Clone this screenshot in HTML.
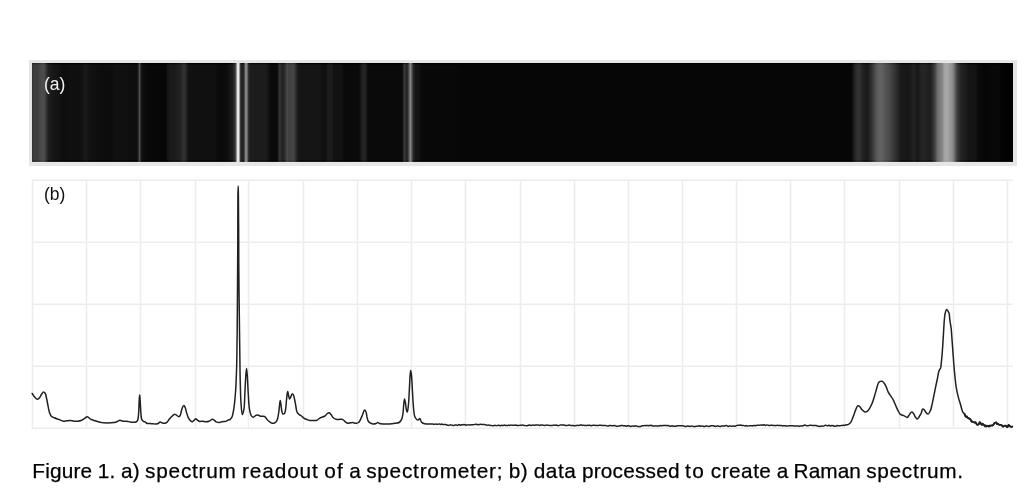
<!DOCTYPE html>
<html><head><meta charset="utf-8"><style>
html,body{margin:0;padding:0;background:#fff;width:1036px;height:500px;overflow:hidden;position:relative}
svg{position:absolute;left:0;top:0}
.lab{position:absolute;font-family:"Liberation Sans",sans-serif;font-size:17.5px;line-height:1;white-space:nowrap;will-change:transform}
.cap{position:absolute;left:0;top:0;font-family:"Liberation Sans",sans-serif;font-size:20.8px;line-height:1;white-space:nowrap;color:#000;will-change:transform;-webkit-text-stroke:0.25px #000}
.cap span{position:absolute;top:461px}
</style></head><body>
<svg width="1036" height="500" viewBox="0 0 1036 500">
<defs><linearGradient id="band" x1="32" y1="0" x2="1013" y2="0" gradientUnits="userSpaceOnUse">
<stop offset="0.00%" stop-color="#333333"/>
<stop offset="0.15%" stop-color="#3d3d3d"/>
<stop offset="0.51%" stop-color="#3f3f3f"/>
<stop offset="0.71%" stop-color="#444444"/>
<stop offset="0.92%" stop-color="#4a4a4a"/>
<stop offset="1.12%" stop-color="#4d4d4d"/>
<stop offset="1.27%" stop-color="#4a4a4a"/>
<stop offset="1.43%" stop-color="#383838"/>
<stop offset="1.63%" stop-color="#222222"/>
<stop offset="1.83%" stop-color="#1c1c1c"/>
<stop offset="2.14%" stop-color="#171717"/>
<stop offset="2.45%" stop-color="#151515"/>
<stop offset="2.85%" stop-color="#121212"/>
<stop offset="3.16%" stop-color="#0e0e0e"/>
<stop offset="3.47%" stop-color="#0e0e0e"/>
<stop offset="3.87%" stop-color="#101010"/>
<stop offset="4.38%" stop-color="#0f0f0f"/>
<stop offset="4.89%" stop-color="#101010"/>
<stop offset="5.20%" stop-color="#141414"/>
<stop offset="5.50%" stop-color="#1a1a1a"/>
<stop offset="5.71%" stop-color="#141414"/>
<stop offset="6.12%" stop-color="#101010"/>
<stop offset="6.42%" stop-color="#0f0f0f"/>
<stop offset="6.93%" stop-color="#0c0c0c"/>
<stop offset="7.95%" stop-color="#0c0c0c"/>
<stop offset="8.46%" stop-color="#101010"/>
<stop offset="9.48%" stop-color="#101010"/>
<stop offset="9.99%" stop-color="#0e0e0e"/>
<stop offset="10.60%" stop-color="#0e0e0e"/>
<stop offset="10.65%" stop-color="#0e0e0e"/>
<stop offset="10.81%" stop-color="#1c1c1c"/>
<stop offset="10.97%" stop-color="#555555"/>
<stop offset="11.11%" stop-color="#1c1c1c"/>
<stop offset="11.26%" stop-color="#101010"/>
<stop offset="11.52%" stop-color="#0b0b0b"/>
<stop offset="12.03%" stop-color="#070707"/>
<stop offset="13.66%" stop-color="#070707"/>
<stop offset="13.76%" stop-color="#121212"/>
<stop offset="14.07%" stop-color="#1a1a1a"/>
<stop offset="14.58%" stop-color="#1c1c1c"/>
<stop offset="15.09%" stop-color="#222222"/>
<stop offset="15.29%" stop-color="#2a2a2a"/>
<stop offset="15.49%" stop-color="#333333"/>
<stop offset="15.70%" stop-color="#282828"/>
<stop offset="15.90%" stop-color="#141414"/>
<stop offset="16.11%" stop-color="#101010"/>
<stop offset="18.65%" stop-color="#101010"/>
<stop offset="18.96%" stop-color="#0b0b0b"/>
<stop offset="19.67%" stop-color="#0b0b0b"/>
<stop offset="19.98%" stop-color="#101010"/>
<stop offset="20.29%" stop-color="#181818"/>
<stop offset="20.49%" stop-color="#1e1e1e"/>
<stop offset="20.64%" stop-color="#303030"/>
<stop offset="20.74%" stop-color="#484848"/>
<stop offset="20.83%" stop-color="#808080"/>
<stop offset="20.90%" stop-color="#c8c8c8"/>
<stop offset="20.96%" stop-color="#e8e8e8"/>
<stop offset="21.06%" stop-color="#eaeaea"/>
<stop offset="21.12%" stop-color="#c0c0c0"/>
<stop offset="21.19%" stop-color="#707070"/>
<stop offset="21.26%" stop-color="#383838"/>
<stop offset="21.36%" stop-color="#242424"/>
<stop offset="21.56%" stop-color="#262626"/>
<stop offset="21.67%" stop-color="#505050"/>
<stop offset="21.76%" stop-color="#808080"/>
<stop offset="21.85%" stop-color="#8a8a8a"/>
<stop offset="21.94%" stop-color="#707070"/>
<stop offset="22.05%" stop-color="#343434"/>
<stop offset="22.22%" stop-color="#1e1e1e"/>
<stop offset="22.73%" stop-color="#1c1c1c"/>
<stop offset="23.85%" stop-color="#1c1c1c"/>
<stop offset="24.06%" stop-color="#141414"/>
<stop offset="24.26%" stop-color="#0c0c0c"/>
<stop offset="24.41%" stop-color="#0a0a0a"/>
<stop offset="24.97%" stop-color="#0a0a0a"/>
<stop offset="25.11%" stop-color="#1c1c1c"/>
<stop offset="25.25%" stop-color="#383838"/>
<stop offset="25.38%" stop-color="#2a2a2a"/>
<stop offset="25.59%" stop-color="#202020"/>
<stop offset="25.79%" stop-color="#303030"/>
<stop offset="26.02%" stop-color="#4a4a4a"/>
<stop offset="26.20%" stop-color="#404040"/>
<stop offset="26.40%" stop-color="#444444"/>
<stop offset="26.71%" stop-color="#444444"/>
<stop offset="26.91%" stop-color="#2c2c2c"/>
<stop offset="27.12%" stop-color="#1a1a1a"/>
<stop offset="27.32%" stop-color="#151515"/>
<stop offset="29.36%" stop-color="#151515"/>
<stop offset="29.56%" stop-color="#111111"/>
<stop offset="29.97%" stop-color="#111111"/>
<stop offset="30.12%" stop-color="#1c1c1c"/>
<stop offset="30.58%" stop-color="#1c1c1c"/>
<stop offset="30.73%" stop-color="#121212"/>
<stop offset="31.60%" stop-color="#121212"/>
<stop offset="31.75%" stop-color="#0a0a0a"/>
<stop offset="33.33%" stop-color="#0a0a0a"/>
<stop offset="33.54%" stop-color="#1a1a1a"/>
<stop offset="33.74%" stop-color="#222222"/>
<stop offset="33.94%" stop-color="#262626"/>
<stop offset="34.10%" stop-color="#181818"/>
<stop offset="34.25%" stop-color="#0a0a0a"/>
<stop offset="37.67%" stop-color="#0a0a0a"/>
<stop offset="37.80%" stop-color="#161616"/>
<stop offset="37.96%" stop-color="#3c3c3c"/>
<stop offset="38.12%" stop-color="#2a2a2a"/>
<stop offset="38.26%" stop-color="#262626"/>
<stop offset="38.41%" stop-color="#505050"/>
<stop offset="38.57%" stop-color="#888888"/>
<stop offset="38.72%" stop-color="#555555"/>
<stop offset="38.87%" stop-color="#282828"/>
<stop offset="39.04%" stop-color="#161616"/>
<stop offset="39.35%" stop-color="#121212"/>
<stop offset="39.55%" stop-color="#101010"/>
<stop offset="39.70%" stop-color="#080808"/>
<stop offset="43.12%" stop-color="#080808"/>
<stop offset="43.63%" stop-color="#060606"/>
<stop offset="83.38%" stop-color="#060606"/>
<stop offset="83.54%" stop-color="#080808"/>
<stop offset="83.64%" stop-color="#101010"/>
<stop offset="83.74%" stop-color="#1a1a1a"/>
<stop offset="83.89%" stop-color="#262626"/>
<stop offset="84.10%" stop-color="#2e2e2e"/>
<stop offset="84.25%" stop-color="#333333"/>
<stop offset="84.40%" stop-color="#2e2e2e"/>
<stop offset="84.51%" stop-color="#2a2a2a"/>
<stop offset="84.66%" stop-color="#222222"/>
<stop offset="84.91%" stop-color="#1e1e1e"/>
<stop offset="85.12%" stop-color="#1a1a1a"/>
<stop offset="85.32%" stop-color="#222222"/>
<stop offset="85.47%" stop-color="#2a2a2a"/>
<stop offset="85.63%" stop-color="#333333"/>
<stop offset="85.83%" stop-color="#444444"/>
<stop offset="85.98%" stop-color="#505050"/>
<stop offset="86.14%" stop-color="#585858"/>
<stop offset="86.34%" stop-color="#606060"/>
<stop offset="86.65%" stop-color="#606060"/>
<stop offset="86.80%" stop-color="#5c5c5c"/>
<stop offset="86.95%" stop-color="#555555"/>
<stop offset="87.16%" stop-color="#505050"/>
<stop offset="87.36%" stop-color="#4a4a4a"/>
<stop offset="87.56%" stop-color="#444444"/>
<stop offset="87.77%" stop-color="#3a3a3a"/>
<stop offset="87.97%" stop-color="#333333"/>
<stop offset="88.18%" stop-color="#2a2a2a"/>
<stop offset="88.38%" stop-color="#222222"/>
<stop offset="88.58%" stop-color="#1a1a1a"/>
<stop offset="88.79%" stop-color="#181818"/>
<stop offset="89.40%" stop-color="#181818"/>
<stop offset="89.60%" stop-color="#1c1c1c"/>
<stop offset="89.91%" stop-color="#222222"/>
<stop offset="90.06%" stop-color="#1e1e1e"/>
<stop offset="90.21%" stop-color="#151515"/>
<stop offset="90.42%" stop-color="#1c1c1c"/>
<stop offset="90.62%" stop-color="#242424"/>
<stop offset="90.83%" stop-color="#262626"/>
<stop offset="91.03%" stop-color="#242424"/>
<stop offset="91.18%" stop-color="#222222"/>
<stop offset="91.44%" stop-color="#1e1e1e"/>
<stop offset="91.64%" stop-color="#222222"/>
<stop offset="91.85%" stop-color="#333333"/>
<stop offset="92.05%" stop-color="#444444"/>
<stop offset="92.25%" stop-color="#666666"/>
<stop offset="92.46%" stop-color="#777777"/>
<stop offset="92.66%" stop-color="#808080"/>
<stop offset="92.81%" stop-color="#888888"/>
<stop offset="92.97%" stop-color="#a0a0a0"/>
<stop offset="93.12%" stop-color="#a6a6a6"/>
<stop offset="93.37%" stop-color="#a5a5a5"/>
<stop offset="93.53%" stop-color="#9a9a9a"/>
<stop offset="93.68%" stop-color="#989898"/>
<stop offset="93.83%" stop-color="#8a8a8a"/>
<stop offset="93.99%" stop-color="#777777"/>
<stop offset="94.14%" stop-color="#585858"/>
<stop offset="94.29%" stop-color="#444444"/>
<stop offset="94.44%" stop-color="#333333"/>
<stop offset="94.60%" stop-color="#2a2a2a"/>
<stop offset="94.80%" stop-color="#222222"/>
<stop offset="95.21%" stop-color="#1c1c1c"/>
<stop offset="95.41%" stop-color="#161616"/>
<stop offset="96.23%" stop-color="#121212"/>
<stop offset="96.43%" stop-color="#0a0a0a"/>
<stop offset="96.84%" stop-color="#080808"/>
<stop offset="97.25%" stop-color="#050505"/>
<stop offset="98.06%" stop-color="#080808"/>
<stop offset="98.57%" stop-color="#090909"/>
<stop offset="98.78%" stop-color="#040404"/>
<stop offset="100.00%" stop-color="#010101"/>
</linearGradient>
<linearGradient id="bandE" x1="32" y1="0" x2="1013" y2="0" gradientUnits="userSpaceOnUse">
<stop offset="0.00%" stop-color="#212121"/>
<stop offset="0.15%" stop-color="#2b2b2b"/>
<stop offset="0.51%" stop-color="#2d2d2d"/>
<stop offset="0.71%" stop-color="#333333"/>
<stop offset="0.92%" stop-color="#3b3b3b"/>
<stop offset="1.12%" stop-color="#3f3f3f"/>
<stop offset="1.27%" stop-color="#3b3b3b"/>
<stop offset="1.43%" stop-color="#262626"/>
<stop offset="1.63%" stop-color="#101010"/>
<stop offset="1.83%" stop-color="#0a0a0a"/>
<stop offset="2.14%" stop-color="#050505"/>
<stop offset="2.45%" stop-color="#030303"/>
<stop offset="2.85%" stop-color="#000000"/>
<stop offset="3.16%" stop-color="#000000"/>
<stop offset="3.47%" stop-color="#000000"/>
<stop offset="3.87%" stop-color="#000000"/>
<stop offset="4.38%" stop-color="#000000"/>
<stop offset="4.89%" stop-color="#000000"/>
<stop offset="5.20%" stop-color="#020202"/>
<stop offset="5.50%" stop-color="#080808"/>
<stop offset="5.71%" stop-color="#020202"/>
<stop offset="6.12%" stop-color="#000000"/>
<stop offset="6.42%" stop-color="#000000"/>
<stop offset="6.93%" stop-color="#000000"/>
<stop offset="7.95%" stop-color="#000000"/>
<stop offset="8.46%" stop-color="#000000"/>
<stop offset="9.48%" stop-color="#000000"/>
<stop offset="9.99%" stop-color="#000000"/>
<stop offset="10.60%" stop-color="#000000"/>
<stop offset="10.65%" stop-color="#000000"/>
<stop offset="10.81%" stop-color="#0a0a0a"/>
<stop offset="10.97%" stop-color="#494949"/>
<stop offset="11.11%" stop-color="#0a0a0a"/>
<stop offset="11.26%" stop-color="#000000"/>
<stop offset="11.52%" stop-color="#000000"/>
<stop offset="12.03%" stop-color="#000000"/>
<stop offset="13.66%" stop-color="#000000"/>
<stop offset="13.76%" stop-color="#000000"/>
<stop offset="14.07%" stop-color="#080808"/>
<stop offset="14.58%" stop-color="#0a0a0a"/>
<stop offset="15.09%" stop-color="#101010"/>
<stop offset="15.29%" stop-color="#181818"/>
<stop offset="15.49%" stop-color="#212121"/>
<stop offset="15.70%" stop-color="#161616"/>
<stop offset="15.90%" stop-color="#020202"/>
<stop offset="16.11%" stop-color="#000000"/>
<stop offset="18.65%" stop-color="#000000"/>
<stop offset="18.96%" stop-color="#000000"/>
<stop offset="19.67%" stop-color="#000000"/>
<stop offset="19.98%" stop-color="#000000"/>
<stop offset="20.29%" stop-color="#060606"/>
<stop offset="20.49%" stop-color="#0c0c0c"/>
<stop offset="20.64%" stop-color="#1e1e1e"/>
<stop offset="20.74%" stop-color="#383838"/>
<stop offset="20.83%" stop-color="#808080"/>
<stop offset="20.90%" stop-color="#c8c8c8"/>
<stop offset="20.96%" stop-color="#e8e8e8"/>
<stop offset="21.06%" stop-color="#eaeaea"/>
<stop offset="21.12%" stop-color="#c0c0c0"/>
<stop offset="21.19%" stop-color="#6c6c6c"/>
<stop offset="21.26%" stop-color="#262626"/>
<stop offset="21.36%" stop-color="#121212"/>
<stop offset="21.56%" stop-color="#141414"/>
<stop offset="21.67%" stop-color="#424242"/>
<stop offset="21.76%" stop-color="#808080"/>
<stop offset="21.85%" stop-color="#8a8a8a"/>
<stop offset="21.94%" stop-color="#6c6c6c"/>
<stop offset="22.05%" stop-color="#222222"/>
<stop offset="22.22%" stop-color="#0c0c0c"/>
<stop offset="22.73%" stop-color="#0a0a0a"/>
<stop offset="23.85%" stop-color="#0a0a0a"/>
<stop offset="24.06%" stop-color="#020202"/>
<stop offset="24.26%" stop-color="#000000"/>
<stop offset="24.41%" stop-color="#000000"/>
<stop offset="24.97%" stop-color="#000000"/>
<stop offset="25.11%" stop-color="#0a0a0a"/>
<stop offset="25.25%" stop-color="#262626"/>
<stop offset="25.38%" stop-color="#181818"/>
<stop offset="25.59%" stop-color="#0e0e0e"/>
<stop offset="25.79%" stop-color="#1e1e1e"/>
<stop offset="26.02%" stop-color="#3b3b3b"/>
<stop offset="26.20%" stop-color="#2e2e2e"/>
<stop offset="26.40%" stop-color="#333333"/>
<stop offset="26.71%" stop-color="#333333"/>
<stop offset="26.91%" stop-color="#1a1a1a"/>
<stop offset="27.12%" stop-color="#080808"/>
<stop offset="27.32%" stop-color="#030303"/>
<stop offset="29.36%" stop-color="#030303"/>
<stop offset="29.56%" stop-color="#000000"/>
<stop offset="29.97%" stop-color="#000000"/>
<stop offset="30.12%" stop-color="#0a0a0a"/>
<stop offset="30.58%" stop-color="#0a0a0a"/>
<stop offset="30.73%" stop-color="#000000"/>
<stop offset="31.60%" stop-color="#000000"/>
<stop offset="31.75%" stop-color="#000000"/>
<stop offset="33.33%" stop-color="#000000"/>
<stop offset="33.54%" stop-color="#080808"/>
<stop offset="33.74%" stop-color="#101010"/>
<stop offset="33.94%" stop-color="#141414"/>
<stop offset="34.10%" stop-color="#060606"/>
<stop offset="34.25%" stop-color="#000000"/>
<stop offset="37.67%" stop-color="#000000"/>
<stop offset="37.80%" stop-color="#040404"/>
<stop offset="37.96%" stop-color="#2a2a2a"/>
<stop offset="38.12%" stop-color="#181818"/>
<stop offset="38.26%" stop-color="#141414"/>
<stop offset="38.41%" stop-color="#424242"/>
<stop offset="38.57%" stop-color="#888888"/>
<stop offset="38.72%" stop-color="#494949"/>
<stop offset="38.87%" stop-color="#161616"/>
<stop offset="39.04%" stop-color="#040404"/>
<stop offset="39.35%" stop-color="#000000"/>
<stop offset="39.55%" stop-color="#000000"/>
<stop offset="39.70%" stop-color="#000000"/>
<stop offset="43.12%" stop-color="#000000"/>
<stop offset="43.63%" stop-color="#000000"/>
<stop offset="83.38%" stop-color="#000000"/>
<stop offset="83.54%" stop-color="#000000"/>
<stop offset="83.64%" stop-color="#000000"/>
<stop offset="83.74%" stop-color="#080808"/>
<stop offset="83.89%" stop-color="#141414"/>
<stop offset="84.10%" stop-color="#1c1c1c"/>
<stop offset="84.25%" stop-color="#212121"/>
<stop offset="84.40%" stop-color="#1c1c1c"/>
<stop offset="84.51%" stop-color="#181818"/>
<stop offset="84.66%" stop-color="#101010"/>
<stop offset="84.91%" stop-color="#0c0c0c"/>
<stop offset="85.12%" stop-color="#080808"/>
<stop offset="85.32%" stop-color="#101010"/>
<stop offset="85.47%" stop-color="#181818"/>
<stop offset="85.63%" stop-color="#212121"/>
<stop offset="85.83%" stop-color="#333333"/>
<stop offset="85.98%" stop-color="#424242"/>
<stop offset="86.14%" stop-color="#4d4d4d"/>
<stop offset="86.34%" stop-color="#575757"/>
<stop offset="86.65%" stop-color="#575757"/>
<stop offset="86.80%" stop-color="#525252"/>
<stop offset="86.95%" stop-color="#494949"/>
<stop offset="87.16%" stop-color="#424242"/>
<stop offset="87.36%" stop-color="#3b3b3b"/>
<stop offset="87.56%" stop-color="#333333"/>
<stop offset="87.77%" stop-color="#282828"/>
<stop offset="87.97%" stop-color="#212121"/>
<stop offset="88.18%" stop-color="#181818"/>
<stop offset="88.38%" stop-color="#101010"/>
<stop offset="88.58%" stop-color="#080808"/>
<stop offset="88.79%" stop-color="#060606"/>
<stop offset="89.40%" stop-color="#060606"/>
<stop offset="89.60%" stop-color="#0a0a0a"/>
<stop offset="89.91%" stop-color="#101010"/>
<stop offset="90.06%" stop-color="#0c0c0c"/>
<stop offset="90.21%" stop-color="#030303"/>
<stop offset="90.42%" stop-color="#0a0a0a"/>
<stop offset="90.62%" stop-color="#121212"/>
<stop offset="90.83%" stop-color="#141414"/>
<stop offset="91.03%" stop-color="#121212"/>
<stop offset="91.18%" stop-color="#101010"/>
<stop offset="91.44%" stop-color="#0c0c0c"/>
<stop offset="91.64%" stop-color="#101010"/>
<stop offset="91.85%" stop-color="#212121"/>
<stop offset="92.05%" stop-color="#333333"/>
<stop offset="92.25%" stop-color="#5f5f5f"/>
<stop offset="92.46%" stop-color="#747474"/>
<stop offset="92.66%" stop-color="#808080"/>
<stop offset="92.81%" stop-color="#888888"/>
<stop offset="92.97%" stop-color="#a0a0a0"/>
<stop offset="93.12%" stop-color="#a6a6a6"/>
<stop offset="93.37%" stop-color="#a5a5a5"/>
<stop offset="93.53%" stop-color="#9a9a9a"/>
<stop offset="93.68%" stop-color="#989898"/>
<stop offset="93.83%" stop-color="#8a8a8a"/>
<stop offset="93.99%" stop-color="#747474"/>
<stop offset="94.14%" stop-color="#4d4d4d"/>
<stop offset="94.29%" stop-color="#333333"/>
<stop offset="94.44%" stop-color="#212121"/>
<stop offset="94.60%" stop-color="#181818"/>
<stop offset="94.80%" stop-color="#101010"/>
<stop offset="95.21%" stop-color="#0a0a0a"/>
<stop offset="95.41%" stop-color="#040404"/>
<stop offset="96.23%" stop-color="#000000"/>
<stop offset="96.43%" stop-color="#000000"/>
<stop offset="96.84%" stop-color="#000000"/>
<stop offset="97.25%" stop-color="#000000"/>
<stop offset="98.06%" stop-color="#000000"/>
<stop offset="98.57%" stop-color="#000000"/>
<stop offset="98.78%" stop-color="#000000"/>
<stop offset="100.00%" stop-color="#000000"/>
</linearGradient>
<linearGradient id="vshade" x1="0" y1="63" x2="0" y2="161.7" gradientUnits="userSpaceOnUse">
<stop offset="0" stop-color="#000" stop-opacity="0.6"/><stop offset="0.02" stop-color="#000" stop-opacity="0"/>
<stop offset="0.98" stop-color="#000" stop-opacity="0"/><stop offset="1" stop-color="#000" stop-opacity="0.6"/>
</linearGradient></defs>
<rect x="29" y="60" width="988" height="106" fill="#e6e6e6"/>
<rect x="32" y="63" width="981" height="98.7" fill="url(#band)"/>
<rect x="32" y="63" width="981" height="1.4" fill="url(#bandE)"/>
<rect x="32" y="160.4" width="981" height="1.3" fill="url(#bandE)"/>
<g>
<rect x="31" y="179" width="3" height="250" fill="#fafafa"/>
<rect x="85" y="179" width="3" height="250" fill="#fafafa"/>
<rect x="139" y="179" width="3" height="250" fill="#fafafa"/>
<rect x="194" y="179" width="3" height="250" fill="#fafafa"/>
<rect x="247" y="179" width="3" height="250" fill="#fafafa"/>
<rect x="302" y="179" width="3" height="250" fill="#fafafa"/>
<rect x="356" y="179" width="3" height="250" fill="#fafafa"/>
<rect x="410" y="179" width="3" height="250" fill="#fafafa"/>
<rect x="464" y="179" width="3" height="250" fill="#fafafa"/>
<rect x="519" y="179" width="3" height="250" fill="#fafafa"/>
<rect x="573" y="179" width="3" height="250" fill="#fafafa"/>
<rect x="627" y="179" width="3" height="250" fill="#fafafa"/>
<rect x="681" y="179" width="3" height="250" fill="#fafafa"/>
<rect x="735" y="179" width="3" height="250" fill="#fafafa"/>
<rect x="789" y="179" width="3" height="250" fill="#fafafa"/>
<rect x="843" y="179" width="3" height="250" fill="#fafafa"/>
<rect x="898" y="179" width="3" height="250" fill="#fafafa"/>
<rect x="952" y="179" width="3" height="250" fill="#fafafa"/>
<rect x="1006" y="179" width="3" height="250" fill="#fafafa"/>
<rect x="31" y="179" width="982" height="1" fill="#f6f6f6"/>
<rect x="31" y="241" width="982" height="1" fill="#f6f6f6"/>
<rect x="31" y="303" width="982" height="1" fill="#f6f6f6"/>
<rect x="31" y="365" width="982" height="1" fill="#f6f6f6"/>
<rect x="31" y="427" width="982" height="1" fill="#f6f6f6"/>
<rect x="32" y="180" width="1" height="249" fill="#ececec"/>
<rect x="86" y="180" width="1" height="249" fill="#ececec"/>
<rect x="140" y="180" width="1" height="249" fill="#ececec"/>
<rect x="195" y="180" width="1" height="249" fill="#ececec"/>
<rect x="248" y="180" width="1" height="249" fill="#ececec"/>
<rect x="303" y="180" width="1" height="249" fill="#ececec"/>
<rect x="357" y="180" width="1" height="249" fill="#ececec"/>
<rect x="411" y="180" width="1" height="249" fill="#ececec"/>
<rect x="465" y="180" width="1" height="249" fill="#ececec"/>
<rect x="520" y="180" width="1" height="249" fill="#ececec"/>
<rect x="574" y="180" width="1" height="249" fill="#ececec"/>
<rect x="628" y="180" width="1" height="249" fill="#ececec"/>
<rect x="682" y="180" width="1" height="249" fill="#ececec"/>
<rect x="736" y="180" width="1" height="249" fill="#ececec"/>
<rect x="790" y="180" width="1" height="249" fill="#ececec"/>
<rect x="844" y="180" width="1" height="249" fill="#ececec"/>
<rect x="899" y="180" width="1" height="249" fill="#ececec"/>
<rect x="953" y="180" width="1" height="249" fill="#ececec"/>
<rect x="1007" y="180" width="1" height="249" fill="#ececec"/>
<rect x="32" y="180" width="980.5" height="1" fill="#ececec"/>
<rect x="32" y="242" width="980.5" height="1" fill="#ececec"/>
<rect x="32" y="304" width="980.5" height="1" fill="#ececec"/>
<rect x="32" y="366" width="980.5" height="1" fill="#ececec"/>
<rect x="32" y="428" width="980.5" height="1" fill="#ececec"/>
</g>
<g fill="none" stroke="#202020" stroke-linejoin="round" stroke-linecap="round">
<path d="M32.2 393.5C32.2 393.5 33.3 395.3 34.0 396.2C34.9 397.2 36.2 399.1 37.2 399.2C38.0 399.3 38.7 398.6 39.4 398.0C40.3 397.1 40.9 395.1 41.7 394.0C42.3 393.2 42.9 392.0 43.5 392.0C44.1 392.0 44.8 392.7 45.3 393.5C46.0 394.6 46.2 396.7 46.6 398.5C47.1 400.7 47.5 403.4 48.0 405.7C48.4 407.9 48.7 410.2 49.3 412.0C49.8 413.5 50.2 415.0 51.1 416.0C51.9 416.9 53.1 417.3 54.3 417.8C55.6 418.4 57.3 418.8 58.8 419.4C60.3 420.0 61.9 421.0 63.3 421.2C64.5 421.4 65.7 420.9 66.9 420.8C68.1 420.7 69.3 420.4 70.5 420.5C71.7 420.6 72.9 421.1 74.1 421.2C75.3 421.3 76.5 421.3 77.7 421.2C79.0 421.1 80.4 420.8 81.6 420.3C82.7 419.8 83.7 418.9 84.7 418.3C85.6 417.7 86.5 416.6 87.4 416.7C88.4 416.8 89.4 418.5 90.6 419.2C91.9 419.9 93.5 420.3 95.1 420.8C97.0 421.4 99.4 422.2 101.4 422.6C103.3 422.9 104.9 423.0 106.8 423.0C109.0 423.0 112.0 423.0 114.0 422.6C115.4 422.3 116.6 421.8 117.6 421.4C118.4 421.1 119.0 420.4 119.8 420.3C120.8 420.2 121.8 421.0 123.0 421.2C124.5 421.4 126.9 421.2 128.2 421.4C129.0 421.5 129.2 421.9 130.0 422.0C131.4 422.2 134.7 422.4 135.9 422.0C136.5 421.8 136.9 421.5 137.2 421.0C137.7 420.4 137.9 419.5 138.1 418.3C138.5 416.3 138.6 413.1 138.8 410.2C139.0 406.7 139.1 401.3 139.3 398.5C139.4 397.0 139.6 394.9 139.7 394.9C139.9 394.9 140.0 398.8 140.2 401.2C140.4 404.3 140.5 408.8 140.8 412.0C141.0 414.6 141.0 417.6 141.7 419.2C142.1 420.2 142.8 420.9 143.5 421.4C144.1 421.8 144.7 421.7 145.3 422.0C145.9 422.4 146.4 423.2 147.1 423.5C147.9 423.8 148.9 423.5 149.8 423.5C150.8 423.5 151.8 423.7 153.0 423.8C154.4 423.9 156.2 424.2 157.5 423.8C158.6 423.5 159.3 422.2 160.2 422.1C161.0 422.0 161.6 422.8 162.4 423.0C163.1 423.2 164.0 423.3 164.7 423.2C165.5 423.1 166.2 422.8 166.9 422.3C167.9 421.6 168.7 419.8 169.6 418.7C170.5 417.7 171.4 416.8 172.3 416.0C173.1 415.3 173.9 414.3 174.6 414.2C175.0 414.1 175.3 414.4 175.8 414.7C176.6 415.1 178.1 416.8 178.9 416.7C179.5 416.6 179.9 415.9 180.3 415.1C181.1 413.7 181.3 410.1 182.1 408.4C182.6 407.2 183.3 405.5 183.9 405.5C184.4 405.5 184.8 406.6 185.2 407.5C185.8 408.8 186.1 411.2 186.6 412.9C187.1 414.6 187.7 416.4 188.4 417.8C189.0 419.0 189.8 420.1 190.6 420.8C191.2 421.3 191.8 421.8 192.4 421.7C193.0 421.6 193.6 420.6 194.2 420.1C194.7 419.6 195.3 418.7 195.8 418.7C196.3 418.7 196.8 419.7 197.4 420.1C198.1 420.6 198.8 421.2 199.6 421.4C200.5 421.6 201.7 421.1 202.8 421.2C203.8 421.3 204.9 421.7 205.9 421.7C207.0 421.7 208.0 421.6 209.1 421.2C210.3 420.8 211.5 419.1 212.7 419.2C213.9 419.3 215.1 421.3 216.3 421.9C217.2 422.3 218.1 422.6 219.0 422.6C220.0 422.6 220.9 421.9 222.0 421.7C223.2 421.5 224.6 421.7 225.7 421.4C226.6 421.1 227.2 420.5 228.0 420.1C228.7 419.8 229.6 419.8 230.2 419.3C230.9 418.8 231.4 418.2 231.9 417.2C232.8 415.3 233.3 411.6 233.9 408.1C234.6 403.6 235.1 397.7 235.5 392.5C235.9 387.3 236.1 382.3 236.3 377.0C236.5 371.5 236.7 366.5 236.8 360.0C237.0 351.4 237.1 340.7 237.2 330.0C237.3 317.6 237.4 304.1 237.5 290.0C237.6 274.3 237.7 256.1 237.8 240.0C237.8 224.9 237.8 205.5 237.9 196.0C238.0 191.5 238.1 186.0 238.2 186.0C238.3 186.0 238.4 191.5 238.4 196.0C238.6 205.5 238.6 224.9 238.7 240.0C238.7 256.1 238.8 274.3 239.0 290.0C239.1 304.1 239.3 317.6 239.5 330.0C239.6 340.7 239.8 351.1 239.9 360.0C240.0 367.2 240.0 372.7 240.2 379.5C240.4 386.9 240.5 396.4 241.0 402.9C241.3 407.5 241.7 414.5 242.3 414.6C242.7 414.6 243.5 411.7 243.9 409.4C244.6 405.4 244.6 398.1 244.9 392.5C245.2 386.9 245.5 380.0 245.8 375.6C246.0 372.7 246.3 368.5 246.5 368.5C246.7 368.5 247.0 371.8 247.2 374.3C247.6 378.7 247.8 386.5 248.2 392.5C248.6 398.2 248.7 405.1 249.5 409.4C250.0 412.1 250.5 414.6 251.4 415.9C252.0 416.7 252.7 417.2 253.4 417.2C254.2 417.2 255.1 415.6 256.0 415.3C256.8 415.0 257.7 415.0 258.5 415.2C259.2 415.4 259.7 416.0 260.5 416.2C261.6 416.5 263.5 416.1 264.5 416.5C265.2 416.8 265.5 417.4 266.0 418.0C266.6 418.7 267.2 419.7 268.0 420.5C269.0 421.4 270.4 422.6 271.5 423.0C272.4 423.3 273.2 423.4 274.0 423.2C274.7 423.0 275.4 422.6 276.0 422.0C276.7 421.3 277.1 420.2 277.5 419.0C278.1 417.2 278.4 414.5 278.8 412.0C279.2 409.2 279.5 405.1 279.8 403.0C280.0 401.9 280.1 400.5 280.3 400.5C280.5 400.5 280.8 403.4 281.0 405.0C281.3 406.9 281.4 409.4 281.8 411.0C282.1 412.2 282.4 413.7 283.0 414.0C283.4 414.2 284.1 413.9 284.5 413.5C285.1 412.9 285.2 411.5 285.5 410.0C286.0 407.5 286.2 403.0 286.5 400.0C286.8 397.5 287.0 394.5 287.3 393.0C287.5 392.3 287.6 391.5 287.8 391.5C288.0 391.5 288.2 393.8 288.5 395.0C288.8 396.3 289.1 398.9 289.5 399.0C289.8 399.0 290.1 398.1 290.5 397.5C291.0 396.6 291.6 394.2 292.2 394.0C292.5 393.9 292.9 394.1 293.2 394.5C293.8 395.2 294.1 397.3 294.5 399.0C295.0 401.1 295.4 403.8 295.8 406.0C296.2 408.1 296.3 410.5 297.0 412.0C297.5 413.1 298.2 413.8 299.0 414.5C299.7 415.1 300.7 415.4 301.5 416.0C302.2 416.5 302.8 417.3 303.5 417.8C304.3 418.3 305.3 418.9 306.0 419.2C306.4 419.4 306.6 419.4 307.0 419.5C307.7 419.7 308.9 420.3 310.0 420.5C311.2 420.7 312.8 420.6 314.0 420.5C315.1 420.4 316.0 420.6 317.0 420.2C318.1 419.8 319.0 418.5 320.0 418.0C320.8 417.5 321.7 417.3 322.5 417.0C323.3 416.7 324.2 416.5 325.0 416.0C325.9 415.4 326.7 413.8 327.5 413.3C328.1 412.9 328.7 412.7 329.2 412.8C329.8 413.0 330.4 413.8 331.0 414.5C331.7 415.3 332.2 416.7 333.0 417.5C333.8 418.3 335.0 418.9 336.0 419.2C336.8 419.5 337.6 419.5 338.5 419.5C339.5 419.5 340.6 419.1 341.5 419.2C342.2 419.3 342.9 419.6 343.5 420.0C344.2 420.5 344.7 421.4 345.5 422.0C346.2 422.5 347.1 423.2 348.0 423.3C348.8 423.4 349.7 422.9 350.5 422.8C351.3 422.7 352.4 422.4 353.0 422.5C353.4 422.6 353.6 422.9 354.0 423.0C354.6 423.2 355.7 423.4 356.5 423.3C357.2 423.2 357.9 422.9 358.5 422.5C359.1 422.0 359.5 421.3 360.0 420.5C360.7 419.3 361.4 417.5 362.0 416.0C362.6 414.6 363.0 413.1 363.5 412.0C363.8 411.2 364.1 410.0 364.5 410.0C364.9 410.0 365.6 411.1 366.0 412.0C366.6 413.2 366.6 415.4 367.0 417.0C367.4 418.4 367.5 419.9 368.2 421.0C368.8 421.9 369.6 422.7 370.5 423.2C371.4 423.7 372.5 424.0 373.5 424.0C374.4 424.0 375.3 423.8 376.0 423.5C376.7 423.3 377.2 422.5 377.8 422.5C378.4 422.5 378.8 423.3 379.5 423.5C380.4 423.8 381.8 423.9 383.0 424.0C384.3 424.1 385.6 424.0 387.0 424.0C388.6 424.0 390.4 423.9 392.0 423.8C393.4 423.7 394.8 423.4 396.0 423.2C397.1 423.0 398.2 423.0 399.0 422.5C399.8 422.1 400.4 421.4 401.0 420.5C401.8 419.2 402.3 417.4 402.7 415.3C403.3 412.4 403.4 407.8 403.7 404.8C404.0 402.5 404.2 398.9 404.5 398.9C404.8 398.9 405.2 401.7 405.5 403.4C405.9 405.5 406.0 408.9 406.5 410.4C406.7 411.2 407.1 412.1 407.3 412.1C407.7 412.0 408.0 408.6 408.3 406.2C408.8 402.3 409.0 395.9 409.3 390.8C409.6 385.7 409.8 379.1 410.1 375.4C410.3 373.3 410.5 370.5 410.7 370.5C410.9 370.5 411.3 373.3 411.5 375.4C411.9 379.3 412.2 386.7 412.5 392.2C412.8 397.4 413.1 403.2 413.5 407.6C413.8 410.8 413.9 413.9 414.6 416.0C415.1 417.5 416.0 418.9 416.7 419.5C417.2 419.9 417.6 420.1 418.1 420.0C418.7 419.9 419.3 418.4 419.8 418.5C420.5 418.6 420.7 421.4 421.6 422.3C422.3 423.1 423.3 423.4 424.4 423.7C425.9 424.1 428.7 424.1 430.0 424.1C430.7 424.1 431.0 424.1 431.5 424.1C431.9 424.0 432.4 423.9 432.8 423.9C433.2 424.0 433.7 424.4 434.1 424.4C434.5 424.4 435.0 423.9 435.4 423.9C435.8 423.9 436.3 424.3 436.7 424.3C437.1 424.3 437.6 424.2 438.0 424.2C438.4 424.1 438.9 423.9 439.3 423.9C439.7 424.0 440.2 424.3 440.6 424.4C441.0 424.4 441.5 424.1 441.9 424.1C442.3 424.2 442.8 424.6 443.2 424.6C443.6 424.7 444.1 424.5 444.5 424.5C444.9 424.5 445.4 424.5 445.8 424.6C446.2 424.7 446.7 424.9 447.1 425.0C447.5 425.2 448.0 425.5 448.4 425.5C448.8 425.4 449.3 424.9 449.7 424.9C450.1 424.8 450.6 424.8 451.0 424.9C451.4 424.9 451.9 425.1 452.3 425.2C452.7 425.3 453.2 425.4 453.6 425.4C454.0 425.4 454.5 425.1 454.9 425.1C455.3 425.0 455.8 424.9 456.2 424.9C456.6 425.0 457.1 425.4 457.5 425.4C457.9 425.3 458.4 424.6 458.8 424.6C459.2 424.6 459.7 425.2 460.1 425.3C460.5 425.3 461.0 424.9 461.4 424.8C461.8 424.7 462.3 424.7 462.7 424.7C463.1 424.6 463.6 424.6 464.0 424.6C464.4 424.7 464.9 424.7 465.3 424.8C465.7 424.9 466.2 425.2 466.6 425.2C467.0 425.2 467.5 424.7 467.9 424.7C468.3 424.6 468.8 424.9 469.2 425.0C469.6 425.0 470.1 425.0 470.5 425.0C470.9 424.9 471.4 424.8 471.8 424.7C472.2 424.7 472.7 424.9 473.1 424.8C473.5 424.8 474.0 424.4 474.4 424.4C474.8 424.3 475.3 424.3 475.7 424.3C476.1 424.3 476.6 424.3 477.0 424.4C477.4 424.4 477.9 424.7 478.3 424.7C478.7 424.7 479.2 424.5 479.6 424.4C480.0 424.4 480.5 424.3 480.9 424.3C481.3 424.3 481.8 424.5 482.2 424.5C482.6 424.5 483.1 424.5 483.5 424.5C483.9 424.5 484.4 424.5 484.8 424.6C485.2 424.6 485.7 425.0 486.1 425.1C486.5 425.2 487.0 425.2 487.4 425.2C487.8 425.1 488.3 424.9 488.7 424.9C489.1 425.0 489.6 425.3 490.0 425.4C490.4 425.4 490.9 425.3 491.3 425.4C491.7 425.4 492.2 425.6 492.6 425.7C493.0 425.7 493.5 425.6 493.9 425.6C494.3 425.5 494.8 425.2 495.2 425.3C495.6 425.3 496.1 425.8 496.5 425.8C496.9 425.8 497.4 425.2 497.8 425.2C498.2 425.1 498.7 425.3 499.1 425.4C499.5 425.5 500.0 425.8 500.4 425.7C500.8 425.7 501.3 425.3 501.7 425.3C502.1 425.3 502.6 425.6 503.0 425.6C503.4 425.6 503.9 425.1 504.3 425.1C504.7 425.1 505.2 425.5 505.6 425.5C506.0 425.6 506.5 425.6 506.9 425.5C507.3 425.5 507.8 425.3 508.2 425.3C508.6 425.3 509.1 425.5 509.5 425.4C509.9 425.4 510.4 425.0 510.8 425.0C511.2 424.9 511.7 425.2 512.1 425.3C512.5 425.3 513.0 425.2 513.4 425.2C513.8 425.2 514.3 425.2 514.7 425.2C515.1 425.2 515.6 425.1 516.0 425.1C516.4 425.2 516.9 425.4 517.3 425.4C517.7 425.5 518.2 425.6 518.6 425.5C519.0 425.5 519.5 425.2 519.9 425.2C520.3 425.1 520.8 425.4 521.2 425.3C521.6 425.3 522.1 424.9 522.5 424.9C522.9 424.9 523.4 425.3 523.8 425.4C524.2 425.5 524.7 425.3 525.1 425.4C525.5 425.4 526.0 425.6 526.4 425.7C526.8 425.7 527.3 425.6 527.7 425.5C528.1 425.4 528.6 425.2 529.0 425.1C529.4 425.1 529.9 425.2 530.3 425.2C530.7 425.3 531.2 425.5 531.6 425.4C532.0 425.4 532.5 424.9 532.9 424.9C533.3 424.9 533.8 425.3 534.2 425.3C534.6 425.3 535.1 425.1 535.5 425.0C535.9 425.0 536.4 425.0 536.8 425.0C537.2 425.0 537.7 424.9 538.1 424.9C538.5 425.0 539.0 425.5 539.4 425.5C539.8 425.5 540.3 425.1 540.7 425.0C541.1 424.9 541.6 425.1 542.0 425.1C542.4 425.1 542.9 425.1 543.3 425.2C543.7 425.3 544.2 425.6 544.6 425.6C545.0 425.6 545.5 425.0 545.9 425.0C546.3 424.9 546.8 425.2 547.2 425.3C547.6 425.3 548.1 425.3 548.5 425.3C548.9 425.4 549.4 425.6 549.8 425.6C550.2 425.6 550.7 425.6 551.1 425.5C551.5 425.5 552.0 425.6 552.4 425.6C552.8 425.5 553.3 425.1 553.7 425.1C554.1 425.0 554.6 425.2 555.0 425.2C555.4 425.2 555.9 425.1 556.3 425.1C556.7 425.2 557.2 425.5 557.6 425.5C558.0 425.6 558.5 425.7 558.9 425.6C559.3 425.5 559.8 425.0 560.2 424.9C560.6 424.8 561.1 425.0 561.5 425.0C561.9 425.0 562.4 425.1 562.8 425.1C563.2 425.1 563.7 425.1 564.1 425.1C564.5 425.2 565.0 425.3 565.4 425.4C565.8 425.4 566.3 425.5 566.7 425.5C567.1 425.5 567.6 425.3 568.0 425.3C568.4 425.2 568.9 425.1 569.3 425.1C569.7 425.1 570.2 425.4 570.6 425.5C571.0 425.5 571.5 425.5 571.9 425.5C572.3 425.5 572.8 425.5 573.2 425.6C573.6 425.7 574.1 425.8 574.5 425.8C574.9 425.8 575.4 425.6 575.8 425.6C576.2 425.5 576.7 425.4 577.1 425.4C577.5 425.3 578.0 425.4 578.4 425.4C578.8 425.4 579.3 425.4 579.7 425.3C580.1 425.2 580.6 424.8 581.0 424.8C581.4 424.8 581.9 425.3 582.3 425.4C582.7 425.4 583.2 425.3 583.6 425.3C584.0 425.3 584.5 425.4 584.9 425.5C585.3 425.5 585.8 425.5 586.2 425.5C586.6 425.5 587.1 425.3 587.5 425.3C587.9 425.3 588.4 425.4 588.8 425.4C589.2 425.4 589.7 425.2 590.1 425.3C590.5 425.3 591.0 425.7 591.4 425.7C591.8 425.7 592.3 425.3 592.7 425.3C593.1 425.2 593.6 425.3 594.0 425.3C594.4 425.3 594.9 425.4 595.3 425.4C595.7 425.4 596.2 425.4 596.6 425.4C597.0 425.4 597.5 425.6 597.9 425.6C598.3 425.5 598.8 425.4 599.2 425.3C599.6 425.3 600.1 425.3 600.5 425.3C600.9 425.3 601.4 425.4 601.8 425.4C602.2 425.5 602.7 425.4 603.1 425.4C603.5 425.4 604.0 425.6 604.4 425.6C604.8 425.6 605.3 425.3 605.7 425.4C606.1 425.4 606.6 426.0 607.0 426.1C607.4 426.1 607.9 426.0 608.3 425.9C608.7 425.8 609.2 425.6 609.6 425.5C610.0 425.5 610.5 425.6 610.9 425.6C611.3 425.6 611.8 425.7 612.2 425.7C612.6 425.7 613.1 425.8 613.5 425.7C613.9 425.7 614.4 425.5 614.8 425.5C615.2 425.6 615.7 426.0 616.1 426.1C616.5 426.3 617.0 426.3 617.4 426.3C617.8 426.2 618.3 425.9 618.7 425.9C619.1 425.8 619.6 425.9 620.0 425.9C620.4 425.8 620.9 425.6 621.3 425.6C621.7 425.6 622.2 425.6 622.6 425.6C623.0 425.7 623.5 425.8 623.9 425.9C624.3 425.9 624.8 425.7 625.2 425.8C625.6 425.9 626.1 426.3 626.5 426.3C626.9 426.3 627.4 425.9 627.8 425.8C628.2 425.7 628.7 425.6 629.1 425.7C629.6 425.8 630.0 426.4 630.4 426.5C630.8 426.5 631.3 426.3 631.7 426.2C632.1 426.1 632.6 425.9 633.0 425.9C633.4 425.9 633.9 426.2 634.3 426.2C634.7 426.2 635.2 425.8 635.6 425.8C636.0 425.8 636.5 426.1 636.9 426.3C637.3 426.4 637.8 426.6 638.2 426.6C638.6 426.7 639.1 426.6 639.5 426.6C639.9 426.5 640.4 426.5 640.8 426.4C641.2 426.2 641.7 425.9 642.1 425.8C642.5 425.7 643.0 425.8 643.4 425.8C643.8 425.7 644.3 425.4 644.7 425.4C645.1 425.4 645.6 425.7 646.0 425.7C646.4 425.7 646.9 425.4 647.3 425.4C647.7 425.4 648.2 425.7 648.6 425.7C649.0 425.7 649.5 425.4 649.9 425.4C650.3 425.3 650.8 425.3 651.2 425.3C651.6 425.4 652.1 425.7 652.5 425.9C652.9 426.0 653.4 426.0 653.8 426.0C654.2 426.1 654.7 426.0 655.1 426.0C655.5 426.0 656.0 426.0 656.4 426.0C656.8 426.0 657.3 426.0 657.7 426.0C658.1 426.0 658.6 426.0 659.0 425.9C659.4 425.8 659.9 425.5 660.3 425.5C660.7 425.5 661.2 425.7 661.6 425.8C662.0 425.8 662.5 425.7 662.9 425.6C663.3 425.6 663.8 425.4 664.2 425.4C664.6 425.4 665.1 425.4 665.5 425.4C665.9 425.4 666.4 425.6 666.8 425.6C667.2 425.7 667.7 425.6 668.1 425.6C668.5 425.7 669.0 425.9 669.4 426.0C669.8 426.1 670.3 426.2 670.7 426.2C671.1 426.2 671.6 425.8 672.0 425.8C672.4 425.8 672.9 426.1 673.3 426.2C673.7 426.3 674.2 426.2 674.6 426.2C675.0 426.3 675.5 426.3 675.9 426.2C676.3 426.2 676.8 425.9 677.2 425.8C677.6 425.7 678.1 425.7 678.5 425.7C678.9 425.6 679.4 425.7 679.8 425.7C680.2 425.7 680.7 425.7 681.1 425.7C681.5 425.7 682.0 425.7 682.4 425.7C682.8 425.8 683.3 426.0 683.7 426.1C684.1 426.2 684.6 426.3 685.0 426.4C685.4 426.4 685.9 426.4 686.3 426.4C686.7 426.3 687.2 426.1 687.6 426.1C688.0 426.1 688.5 426.2 688.9 426.3C689.3 426.3 689.8 426.5 690.2 426.4C690.6 426.4 691.1 425.9 691.5 425.9C691.9 425.8 692.4 426.2 692.8 426.3C693.2 426.4 693.7 426.5 694.1 426.5C694.5 426.5 695.0 426.4 695.4 426.4C695.8 426.3 696.3 426.4 696.7 426.3C697.1 426.3 697.6 426.2 698.0 426.1C698.4 426.0 698.9 425.8 699.3 425.8C699.7 425.9 700.2 426.3 700.6 426.3C701.0 426.3 701.5 426.0 701.9 426.0C702.3 426.0 702.8 426.2 703.2 426.3C703.6 426.4 704.1 426.5 704.5 426.5C704.9 426.4 705.4 426.1 705.8 426.0C706.2 425.9 706.7 425.9 707.1 426.0C707.5 426.1 708.0 426.4 708.4 426.4C708.8 426.5 709.3 426.3 709.7 426.2C710.1 426.1 710.6 425.9 711.0 425.8C711.4 425.7 711.9 425.7 712.3 425.7C712.7 425.7 713.2 425.7 713.6 425.8C714.0 425.9 714.5 426.3 714.9 426.3C715.3 426.4 715.8 426.4 716.2 426.3C716.6 426.2 717.1 425.7 717.5 425.7C717.9 425.7 718.4 426.2 718.8 426.3C719.2 426.4 719.7 426.4 720.1 426.4C720.5 426.4 721.0 426.2 721.4 426.1C721.8 426.0 722.3 425.9 722.7 425.9C723.1 425.9 723.6 426.1 724.0 426.0C724.4 426.0 724.9 425.8 725.3 425.7C725.7 425.6 726.2 425.5 726.6 425.6C727.1 425.7 727.5 426.3 727.9 426.4C728.3 426.4 728.8 426.2 729.2 426.1C729.6 426.1 730.1 426.0 730.5 426.0C730.9 426.1 731.4 426.4 731.8 426.3C732.2 426.3 732.7 426.0 733.1 425.9C733.5 425.9 734.0 426.2 734.4 426.2C734.8 426.2 735.3 426.1 735.7 426.0C736.1 425.9 736.6 425.5 737.0 425.4C737.4 425.3 737.9 425.4 738.3 425.3C738.7 425.3 739.2 425.3 739.6 425.3C740.0 425.2 740.5 425.1 740.9 425.1C741.3 425.2 741.8 425.5 742.2 425.6C742.6 425.6 743.1 425.5 743.5 425.5C743.9 425.6 744.4 425.9 744.8 425.9C745.2 425.9 745.7 425.6 746.1 425.6C746.5 425.7 747.0 426.2 747.4 426.2C747.8 426.2 748.3 425.7 748.7 425.7C749.1 425.6 749.6 425.7 750.0 425.7C750.4 425.7 750.9 425.7 751.3 425.7C751.7 425.7 752.2 425.9 752.6 425.9C753.0 425.8 753.5 425.4 753.9 425.4C754.3 425.4 754.8 425.7 755.2 425.7C755.6 425.7 756.1 425.4 756.5 425.4C756.9 425.3 757.4 425.4 757.8 425.3C758.2 425.3 758.7 425.4 759.1 425.3C759.5 425.2 760.0 424.9 760.4 424.9C760.8 424.8 761.3 425.1 761.7 425.2C762.1 425.2 762.6 425.0 763.0 424.9C763.4 424.8 763.9 424.7 764.3 424.7C764.7 424.8 765.2 425.3 765.6 425.4C766.0 425.4 766.5 424.9 766.9 424.9C767.3 424.9 767.8 425.1 768.2 425.2C768.6 425.3 769.1 425.4 769.5 425.4C769.9 425.5 770.4 425.4 770.8 425.3C771.2 425.3 771.7 425.2 772.1 425.2C772.5 425.2 773.0 425.3 773.4 425.4C773.8 425.4 774.3 425.4 774.7 425.5C775.1 425.5 775.6 425.7 776.0 425.7C776.4 425.7 776.9 425.2 777.3 425.2C777.7 425.2 778.2 425.6 778.6 425.6C779.0 425.6 779.5 425.4 779.9 425.4C780.3 425.4 780.8 425.4 781.2 425.4C781.6 425.5 782.1 425.8 782.5 425.9C782.9 425.9 783.4 425.7 783.8 425.7C784.2 425.6 784.7 425.7 785.1 425.7C785.5 425.8 786.0 425.9 786.4 425.9C786.8 426.0 787.3 426.1 787.7 426.0C788.1 426.0 788.6 425.7 789.0 425.7C789.4 425.7 789.9 425.8 790.3 425.8C790.7 425.9 791.2 425.8 791.6 425.8C792.0 425.8 792.5 425.8 792.9 425.8C793.3 425.9 793.8 426.0 794.2 426.0C794.6 426.1 795.1 425.9 795.5 425.9C795.9 426.0 796.4 426.1 796.8 426.1C797.2 426.1 797.7 426.0 798.1 426.0C798.5 426.0 799.0 426.2 799.4 426.2C799.8 426.2 800.3 425.9 800.7 425.9C801.1 425.8 801.6 425.9 802.0 425.9C802.4 425.9 802.9 425.9 803.3 425.8C803.7 425.7 804.2 425.2 804.6 425.1C805.0 425.1 805.5 425.3 805.9 425.4C806.3 425.5 806.8 425.7 807.2 425.8C807.6 425.8 808.1 425.8 808.5 425.7C808.9 425.7 809.4 425.3 809.8 425.2C810.2 425.2 810.7 425.2 811.1 425.3C811.5 425.4 812.0 425.6 812.4 425.6C812.8 425.6 813.3 425.4 813.7 425.4C814.1 425.4 814.6 425.6 815.0 425.6C815.4 425.6 815.9 425.5 816.3 425.5C816.7 425.6 817.2 426.0 817.6 426.1C818.0 426.2 818.5 426.2 818.9 426.3C819.3 426.3 819.8 426.5 820.2 426.4C820.6 426.4 821.1 425.9 821.5 425.9C821.9 425.9 822.4 426.2 822.8 426.2C823.2 426.2 823.7 426.1 824.1 425.9C824.5 425.7 825.0 425.3 825.4 425.2C825.8 425.2 826.3 425.5 826.7 425.6C827.1 425.6 827.6 425.7 828.0 425.7C828.4 425.6 828.9 425.2 829.3 425.2C829.7 425.2 830.2 425.9 830.6 425.9C831.0 426.0 831.5 425.6 831.9 425.6C832.3 425.6 832.8 425.7 833.2 425.8C833.6 425.9 834.1 426.3 834.5 426.3C834.9 426.4 835.4 426.3 835.8 426.2C836.2 426.1 836.7 425.7 837.1 425.6C837.5 425.6 838.0 425.7 838.4 425.8C838.8 425.8 839.3 425.8 839.7 425.8C840.1 425.7 840.6 425.6 841.0 425.6C841.4 425.5 841.9 425.4 842.3 425.4C842.7 425.4 843.2 425.3 843.6 425.3C844.0 425.3 844.5 425.5 844.9 425.4C845.2 425.3 845.3 425.1 845.6 425.0C846.1 424.8 847.2 424.9 848.0 424.6C848.8 424.2 849.7 423.6 850.4 422.8C851.2 421.9 851.6 420.5 852.2 419.2C852.8 417.7 853.4 416.0 854.0 414.4C854.6 412.8 855.2 411.1 855.8 409.6C856.4 408.3 856.8 406.4 857.6 406.0C858.2 405.7 859.2 406.1 859.8 406.6C860.6 407.2 861.0 408.7 861.8 409.6C862.6 410.5 863.8 411.8 864.8 412.0C865.6 412.2 866.5 411.9 867.2 411.4C868.1 410.8 868.9 409.6 869.6 408.4C870.5 407.0 871.3 405.4 872.0 403.6C872.9 401.5 873.6 398.9 874.4 396.4C875.2 393.7 876.0 390.5 876.8 388.0C877.4 386.0 877.8 383.7 878.6 382.6C879.1 381.9 879.8 381.6 880.4 381.4C881.0 381.2 881.8 381.1 882.4 381.4C883.2 381.8 884.0 382.9 884.6 383.8C885.3 384.8 885.8 386.1 886.4 387.4C887.0 388.7 887.4 390.4 888.0 391.6C888.4 392.5 888.9 393.3 889.4 394.0C889.8 394.6 890.1 395.1 890.6 395.8C891.3 396.8 892.3 398.0 893.0 399.4C893.9 401.0 894.6 403.0 895.4 404.8C896.2 406.6 896.9 408.5 897.8 410.2C898.6 411.7 899.3 413.5 900.4 414.4C901.4 415.2 902.7 415.1 903.8 415.6C905.0 416.1 906.3 417.6 907.2 417.4C908.0 417.2 908.5 415.8 909.2 415.0C910.0 414.1 910.8 412.1 911.6 412.0C912.2 411.9 912.9 412.6 913.4 413.2C914.1 414.0 914.5 415.8 915.2 416.8C915.8 417.7 916.6 419.0 917.3 419.0C918.0 419.0 918.7 417.2 919.4 416.2C920.0 415.2 920.7 414.3 921.2 413.2C921.8 411.9 922.1 409.3 922.8 409.0C923.2 408.8 923.7 409.3 924.2 409.7C924.9 410.3 925.5 412.2 926.3 412.9C926.9 413.5 927.8 414.1 928.4 413.9C929.2 413.6 929.9 411.8 930.5 410.4C931.3 408.5 931.7 405.8 932.3 403.4C932.9 400.7 933.4 397.8 934.0 395.0C934.6 392.2 935.1 389.4 935.7 386.6C936.3 383.8 936.9 380.9 937.5 378.2C938.0 375.8 938.2 373.1 938.9 371.2C939.4 369.8 940.3 369.0 940.7 367.7C941.1 366.2 941.1 364.4 941.3 362.8C941.5 361.4 941.5 360.5 941.7 358.8C942.0 355.8 942.4 350.8 942.7 346.2C943.1 340.7 943.5 333.1 943.8 328.0C944.0 324.2 944.2 320.9 944.5 318.2C944.7 316.3 944.8 314.8 945.2 313.3C945.5 311.9 946.0 309.6 946.6 309.5C947.0 309.4 947.6 310.6 948.0 311.2C948.4 311.8 948.8 312.4 949.1 313.3C949.6 314.8 949.5 317.4 949.8 319.6C950.1 322.2 950.7 324.8 951.1 328.0C951.6 332.1 951.8 337.3 952.2 342.0C952.6 346.9 952.9 352.2 953.3 357.0C953.6 361.5 953.9 365.4 954.3 370.0C954.8 375.2 955.4 381.8 956.1 386.6C956.7 390.3 957.3 393.3 958.1 396.4C958.8 399.3 959.8 402.1 960.6 404.8C961.3 407.2 961.8 410.2 962.7 411.8C963.2 412.8 964.0 413.1 964.5 413.9C965.1 414.7 965.4 416.5 965.9 416.7C966.2 416.8 966.5 416.4 966.7 416.4C967.0 416.6 967.2 417.4 967.5 417.7C967.7 417.9 968.0 418.0 968.3 418.1C968.6 418.2 968.8 418.3 969.0 418.5C969.3 418.6 969.5 418.8 969.8 419.0C970.1 419.2 970.4 419.2 970.6 419.5C970.9 419.9 971.0 421.2 971.4 421.4C971.6 421.6 971.9 421.3 972.2 421.4C972.5 421.5 972.7 422.0 973.0 422.1C973.3 422.2 973.5 422.1 973.8 422.2C974.1 422.3 974.3 422.6 974.6 422.6C974.9 422.6 975.2 422.3 975.4 422.3C975.7 422.4 975.9 423.0 976.2 423.4C976.5 423.8 976.8 424.6 977.2 424.7C977.5 424.9 977.9 424.7 978.2 424.6C978.5 424.5 978.8 424.2 979.0 423.8C979.3 423.4 979.5 422.2 979.8 422.2C980.1 422.2 980.6 423.3 981.0 423.8C981.3 424.2 981.5 424.8 981.8 424.8C982.1 424.8 982.3 423.8 982.6 423.7C982.9 423.7 983.1 424.4 983.4 424.6C983.7 424.8 984.0 424.9 984.2 425.1C984.5 425.5 984.7 426.4 985.0 426.4C985.3 426.4 985.5 425.5 985.8 425.5C986.1 425.5 986.3 426.4 986.6 426.4C986.9 426.4 987.1 425.9 987.4 425.8C987.7 425.7 988.0 425.7 988.2 425.9C988.5 426.0 988.7 426.6 989.0 426.6C989.3 426.6 989.5 425.8 989.8 425.6C990.0 425.5 990.3 425.7 990.6 425.7C990.9 425.6 991.1 425.4 991.4 425.4C991.7 425.4 991.9 425.7 992.2 425.6C992.5 425.6 992.7 425.3 993.0 425.1C993.3 424.8 993.5 424.5 993.8 424.2C994.1 423.8 994.3 423.3 994.6 423.0C994.8 422.8 995.1 422.7 995.4 422.6C995.7 422.5 996.0 422.4 996.2 422.5C996.5 422.6 996.7 423.9 997.0 424.0C997.2 424.1 997.5 423.8 997.8 423.8C998.1 423.8 998.3 424.1 998.6 424.3C998.9 424.5 999.1 424.8 999.4 424.9C999.7 425.0 999.9 425.0 1000.2 425.0C1000.5 425.0 1000.7 424.8 1001.0 424.9C1001.3 424.9 1001.6 425.1 1001.8 425.3C1002.1 425.5 1002.3 426.2 1002.6 426.4C1002.8 426.5 1003.1 426.6 1003.4 426.5C1003.7 426.4 1003.9 426.0 1004.2 425.9C1004.5 425.8 1004.7 425.8 1005.0 425.8C1005.3 425.8 1005.7 425.6 1006.0 425.8C1006.4 425.9 1006.7 426.9 1007.0 427.0C1007.3 427.1 1007.6 426.9 1007.8 426.7C1008.1 426.3 1008.3 425.1 1008.6 425.0C1008.9 424.9 1009.4 425.9 1009.8 426.2C1010.1 426.4 1010.3 426.4 1010.6 426.5C1010.9 426.7 1011.1 426.9 1011.4 426.9C1011.7 426.9 1012.2 426.6 1012.2 426.6" stroke-width="1.5"/>
<path d="M964.5 413.9C964.5 413.9 965.4 416.5 965.9 416.7C966.2 416.8 966.5 416.4 966.7 416.4C967.0 416.6 967.2 417.4 967.5 417.7C967.7 417.9 968.0 418.0 968.3 418.1C968.6 418.2 968.8 418.3 969.0 418.5C969.3 418.6 969.5 418.8 969.8 419.0C970.1 419.2 970.4 419.2 970.6 419.5C970.9 419.9 971.0 421.2 971.4 421.4C971.6 421.6 971.9 421.3 972.2 421.4C972.5 421.5 972.7 422.0 973.0 422.1C973.3 422.2 973.5 422.1 973.8 422.2C974.1 422.3 974.3 422.6 974.6 422.6C974.9 422.6 975.2 422.3 975.4 422.3C975.7 422.4 975.9 423.0 976.2 423.4C976.5 423.8 976.8 424.6 977.2 424.7C977.5 424.9 977.9 424.7 978.2 424.6C978.5 424.5 978.8 424.2 979.0 423.8C979.3 423.4 979.5 422.2 979.8 422.2C980.1 422.2 980.6 423.3 981.0 423.8C981.3 424.2 981.5 424.8 981.8 424.8C982.1 424.8 982.3 423.8 982.6 423.7C982.9 423.7 983.1 424.4 983.4 424.6C983.7 424.8 984.0 424.9 984.2 425.1C984.5 425.5 984.7 426.4 985.0 426.4C985.3 426.4 985.5 425.5 985.8 425.5C986.1 425.5 986.3 426.4 986.6 426.4C986.9 426.4 987.1 425.9 987.4 425.8C987.7 425.7 988.0 425.7 988.2 425.9C988.5 426.0 988.7 426.6 989.0 426.6C989.3 426.6 989.5 425.8 989.8 425.6C990.0 425.5 990.3 425.7 990.6 425.7C990.9 425.6 991.1 425.4 991.4 425.4C991.7 425.4 991.9 425.7 992.2 425.6C992.5 425.6 992.7 425.3 993.0 425.1C993.3 424.8 993.5 424.5 993.8 424.2C994.1 423.8 994.3 423.3 994.6 423.0C994.8 422.8 995.1 422.7 995.4 422.6C995.7 422.5 996.0 422.4 996.2 422.5C996.5 422.6 996.7 423.9 997.0 424.0C997.2 424.1 997.5 423.8 997.8 423.8C998.1 423.8 998.3 424.1 998.6 424.3C998.9 424.5 999.1 424.8 999.4 424.9C999.7 425.0 999.9 425.0 1000.2 425.0C1000.5 425.0 1000.7 424.8 1001.0 424.9C1001.3 424.9 1001.6 425.1 1001.8 425.3C1002.1 425.5 1002.3 426.2 1002.6 426.4C1002.8 426.5 1003.1 426.6 1003.4 426.5C1003.7 426.4 1003.9 426.0 1004.2 425.9C1004.5 425.8 1004.7 425.8 1005.0 425.8C1005.3 425.8 1005.7 425.6 1006.0 425.8C1006.4 425.9 1006.7 426.9 1007.0 427.0C1007.3 427.1 1007.6 426.9 1007.8 426.7C1008.1 426.3 1008.3 425.1 1008.6 425.0C1008.9 424.9 1009.4 425.9 1009.8 426.2C1010.1 426.4 1010.3 426.4 1010.6 426.5C1010.9 426.7 1011.1 426.9 1011.4 426.9C1011.7 426.9 1012.2 426.6 1012.2 426.6" stroke-width="1.9"/>
</g>
</svg>
<div class="lab" style="left:43.6px;top:75.6px;color:#f0f0f0">(a)</div>
<div class="lab" style="left:44px;top:186px;color:#111">(b)</div>
<div class="cap"><span style="left:32.30px;letter-spacing:0.164px">Figure</span>
<span style="left:97.63px;letter-spacing:0.359px">1.</span>
<span style="left:121.10px;letter-spacing:0.063px">a)</span>
<span style="left:145.11px;letter-spacing:0.746px">spectrum</span>
<span style="left:242.00px;letter-spacing:0.886px">readout</span>
<span style="left:324.14px;letter-spacing:1.226px">of</span>
<span style="left:349.35px;letter-spacing:-0.171px">a</span>
<span style="left:366.14px;letter-spacing:0.766px">spectrometer;</span>
<span style="left:508.63px;letter-spacing:0.610px">b)</span>
<span style="left:533.74px;letter-spacing:0.570px">data</span>
<span style="left:581.89px;letter-spacing:0.208px">processed</span>
<span style="left:685.11px;letter-spacing:1.469px">to</span>
<span style="left:710.80px;letter-spacing:0.468px">create</span>
<span style="left:776.82px;letter-spacing:-0.171px">a</span>
<span style="left:793.61px;letter-spacing:0.038px">Raman</span>
<span style="left:866.24px;letter-spacing:0.688px">spectrum.</span></div>
</body></html>
